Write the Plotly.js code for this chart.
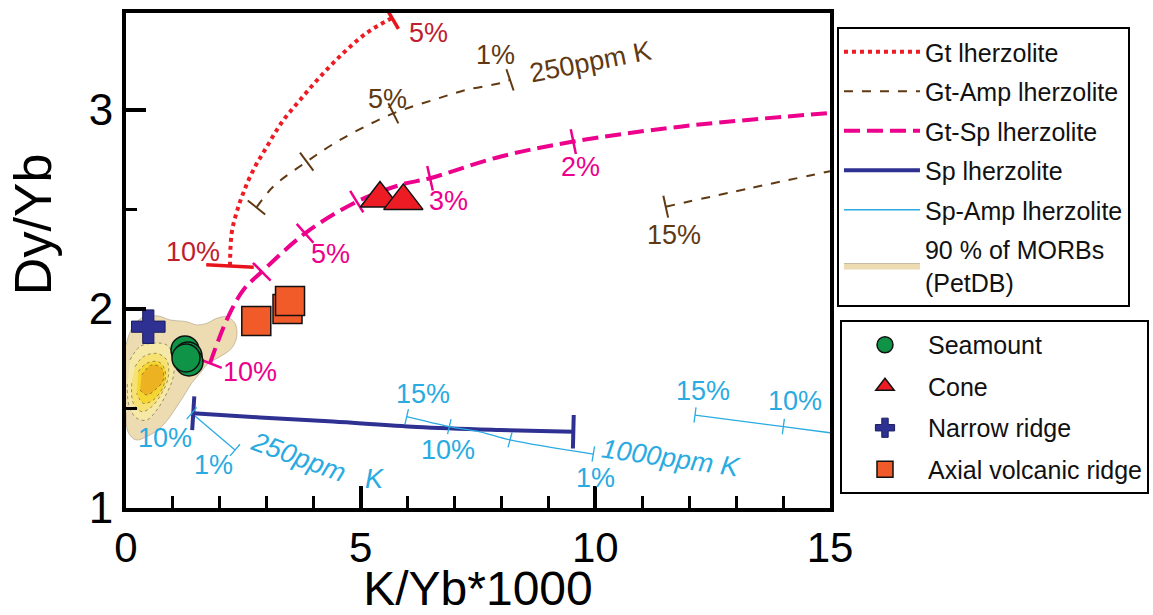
<!DOCTYPE html>
<html>
<head>
<meta charset="utf-8">
<script src="https://cdn.plot.ly/plotly-3.0.1.min.js"></script>
<style>
html,body{margin:0;padding:0;background:#fff;}
#chart{width:1153px;height:615px;}
</style>
</head>
<body>
<div id="chart"></div>
<script>
// ---------------- data ----------------
// Gt lherzolite melting curve
const gtX = [2.216, 2.252, 2.359, 2.499, 2.712, 2.998, 3.318, 3.708, 4.134, 4.630, 5.129, 5.668];
const gtY = [2.216, 2.382, 2.487, 2.583, 2.698, 2.814, 2.937, 3.050, 3.166, 3.286, 3.387, 3.462];
const gtTickX = [2.216, 5.668];
const gtTickY = [2.216, 3.462];

// Gt-Amp lherzolite (250 ppm K and 1000 ppm K segments)
const gtAmpX = [2.78, 3.139, 3.850, 4.560, 5.696, 6.548, 7.260, 7.969, 8.182, null, 11.50, 13.3, 15.0];
const gtAmpY = [2.51, 2.615, 2.740, 2.849, 2.983, 3.050, 3.101, 3.134, 3.151, null, 2.514, 2.607, 2.692];
const gtAmpTickX = [2.78, 3.850, 5.696, 8.182, 11.50];
const gtAmpTickY = [2.51, 2.740, 2.983, 3.151, 2.514];

// Gt-Sp lherzolite
const gtSpX = [1.79, 2.146, 2.499, 2.893, 3.815, 4.916, 5.838, 6.478, 7.969, 9.531, 11.805, 15.0];
const gtSpY = [1.727, 1.945, 2.095, 2.187, 2.380, 2.539, 2.623, 2.657, 2.765, 2.841, 2.916, 2.985];
const gtSpTickX = [1.79, 2.893, 3.815, 4.916, 6.478, 9.531];
const gtSpTickY = [1.727, 2.187, 2.380, 2.539, 2.657, 2.841];

// Sp lherzolite
const spX = [1.433, 2.855, 4.411, 6.201, 7.969, 9.531];
const spY = [1.476, 1.455, 1.434, 1.407, 1.392, 1.383];
const spTickX = [1.433, 9.531];
const spTickY = [1.476, 1.383];

// Sp-Amp lherzolite (three segments)
const spAmpX = [1.400, 2.323, null, 5.981, 6.889, 7.543, 8.182, 9.957, null, 12.124, 14.006, 15.0];
const spAmpY = [1.476, 1.291, null, 1.459, 1.409, 1.383, 1.342, 1.271, null, 1.467, 1.409, 1.378];
const spAmpTickX = [1.400, 2.323, 5.981, 6.889, 8.182, 9.957, 12.124, 14.006];
const spAmpTickY = [1.476, 1.291, 1.459, 1.409, 1.342, 1.271, 1.467, 1.409];

// 90 % of MORBs (PetDB) density contours, outer to inner
const morbOuterX = [0.00, 0.128, 0.341, 0.682, 0.938, 1.293, 1.506, 1.719, 1.933, 2.146, 2.323, 2.359, 2.252, 2.003, 1.754, 1.577, 1.400, 1.221, 1.080, 0.938, 0.724, 0.469, 0.213, 0.043, 0.00];
const morbOuterY = [1.819, 1.905, 1.955, 1.965, 1.945, 1.936, 1.920, 1.928, 1.953, 1.961, 1.928, 1.861, 1.803, 1.760, 1.727, 1.677, 1.627, 1.559, 1.509, 1.459, 1.401, 1.362, 1.342, 1.382, 1.477];
const morbL2X = [0.085, 0.298, 0.582, 0.867, 1.008, 1.008, 0.867, 0.654, 0.441, 0.228, 0.070, 0.028];
const morbL2Y = [1.744, 1.811, 1.828, 1.819, 1.760, 1.660, 1.576, 1.492, 1.442, 1.451, 1.509, 1.627];
const morbL3X = [0.192, 0.369, 0.654, 0.867, 0.901, 0.761, 0.548, 0.335, 0.156, 0.121];
const morbL3Y = [1.710, 1.760, 1.777, 1.744, 1.660, 1.576, 1.509, 1.484, 1.526, 1.627];
const morbL4X = [0.262, 0.441, 0.688, 0.831, 0.795, 0.582, 0.369, 0.228];
const morbL4Y = [1.685, 1.727, 1.735, 1.693, 1.610, 1.543, 1.526, 1.576];
const morbCoreX = [0.335, 0.548, 0.761, 0.795, 0.618, 0.441, 0.298];
const morbCoreY = [1.668, 1.719, 1.702, 1.643, 1.593, 1.568, 1.593];

// Samples
const seamountX = [1.257, 1.321, 1.342, 1.278];
const seamountY = [1.794, 1.764, 1.734, 1.754];
const coneX = [5.412, 5.909];
const coneY = [2.555, 2.543];
const narrowX = [0.475];
const narrowY = [1.911];
const axialX = [2.776, 3.441, 3.495];
const axialY = [1.940, 2.000, 2.040];

// Curve labels
const redLabels = ['5%', '10%'];
const redLabelX = [6.435, 1.434];
const redLabelY = [3.389, 2.288];
const brownLabels = ['5%', '1%', '250ppm K', '15%'];
const brownLabelX = [5.572, 7.863, 9.887, 11.681];
const brownLabelY = [3.057, 3.276, 3.241, 2.372];
const magentaLabels = ['5%', '3%', '2%', '10%'];
const magentaLabelX = [4.347, 6.868, 9.674, 2.642];
const magentaLabelY = [2.276, 2.544, 2.711, 1.685];
const blueLabels = ['10%', '1%', '250ppm', 'K', '15%', '10%', '1%', '1000ppm K', '15%', '10%'];
const blueLabelX = [0.831, 1.860, 3.671, 5.284, 6.318, 6.868, 9.993, 11.609, 12.284, 14.255];
const blueLabelY = [1.350, 1.216, 1.254, 1.146, 1.573, 1.291, 1.153, 1.250, 1.589, 1.539];

// Axis ticks
const xTickVals = [0, 5, 10, 15];
const yTickVals = [1, 2, 3];

// ---------------- styling / layout ----------------
const FONT = 'Liberation Sans, Arial, Helvetica, sans-serif';
const xRange = [0, 15];
const yRange = [1, 3.487];
const M = {l: 126, r: 323, t: 13, b: 107, autoexpand: false};
const W = 1153, H = 615;
const kx = (W - M.l - M.r) / (xRange[1] - xRange[0]);
const ky = (H - M.t - M.b) / (yRange[1] - yRange[0]);

const C = {
  red: '#ed1c24', redTick: '#e8141c', redTxt: '#be1e2d',
  brown: '#603913',
  magenta: '#ec008c',
  sp: '#2e3192',
  spAmp: '#29abe2',
  tan: '#eddcb1'
};

// angle (deg, clockwise) of a tick perpendicular to a curve at a point
function tickAngles(cx, cy, tx, ty) {
  const segs = [];
  for (let i = 0; i < cx.length - 1; i++) {
    if (cx[i] === null || cx[i + 1] === null) continue;
    segs.push([cx[i], cy[i], cx[i + 1], cy[i + 1]]);
  }
  return tx.map((x, k) => {
    const y = ty[k];
    let best = null, bd = Infinity;
    segs.forEach(s => {
      const px = (s[2] - s[0]) * kx, py = (s[3] - s[1]) * ky;
      const qx = (x - s[0]) * kx, qy = (y - s[1]) * ky;
      let t = (qx * px + qy * py) / (px * px + py * py);
      t = Math.max(0, Math.min(1, t));
      const d = Math.hypot(qx - t * px, qy - t * py);
      if (d < bd) { bd = d; best = s; }
    });
    const dx = (best[2] - best[0]) * kx;
    const dy = -(best[3] - best[1]) * ky;
    return Math.atan2(dy, dx) * 180 / Math.PI;
  });
}

function tickTrace(cx, cy, tx, ty, color, len, width) {
  return {
    x: tx, y: ty, type: 'scatter', mode: 'markers', showlegend: false, hoverinfo: 'skip',
    marker: {symbol: 'line-ns', size: len, angle: tickAngles(cx, cy, tx, ty), opacity: 1,
             line: {color: color, width: width}}
  };
}

const traces = [];

// MORB field
const morbLevels = [
  [morbOuterX, morbOuterY, '#eddcb1', 'rgba(150,135,110,0.8)', 'solid', 0.6],
  [morbL2X, morbL2Y, '#f6e8a6', 'rgba(60,50,30,0.7)', 'dot', 0.7],
  [morbL3X, morbL3Y, '#f8e173', 'rgba(60,50,30,0.7)', 'dot', 0.7],
  [morbL4X, morbL4Y, '#f5d531', 'rgba(60,50,30,0.7)', 'dot', 0.7],
  [morbCoreX, morbCoreY, '#edb221', 'rgba(60,50,30,0.7)', 'dot', 0.7]
];
morbLevels.forEach((lv, i) => {
  traces.push({
    x: lv[0], y: lv[1], type: 'scatter', mode: 'lines', fill: 'toself',
    fillcolor: lv[2], line: {color: lv[3], width: lv[5], dash: lv[4], shape: 'spline', smoothing: 1.0},
    name: '90 % of MORBs<br>(PetDB)', showlegend: i === 0, legend: 'legend',
    legendgroup: 'morb', legendrank: 6, hoverinfo: 'skip'
  });
});

// model curves
traces.push({x: gtX, y: gtY, type: 'scatter', mode: 'lines', name: 'Gt lherzolite',
  line: {color: C.red, width: 4, dash: 'dot', shape: 'spline'}, legend: 'legend', legendgroup: 'g1', legendrank: 1});
traces.push({x: gtAmpX, y: gtAmpY, type: 'scatter', mode: 'lines', name: 'Gt-Amp lherzolite',
  line: {color: C.brown, width: 2, dash: 'dash', shape: 'spline'}, connectgaps: false,
  legend: 'legend', legendgroup: 'g2', legendrank: 2});
traces.push({x: gtSpX, y: gtSpY, type: 'scatter', mode: 'lines', name: 'Gt-Sp lherzolite',
  line: {color: C.magenta, width: 4, dash: '16px,7px', shape: 'spline'}, legend: 'legend', legendgroup: 'g3', legendrank: 3});
traces.push({x: spX, y: spY, type: 'scatter', mode: 'lines', name: 'Sp lherzolite',
  line: {color: C.sp, width: 4, shape: 'spline'}, legend: 'legend', legendgroup: 'g4', legendrank: 4});
traces.push({x: spAmpX, y: spAmpY, type: 'scatter', mode: 'lines', name: 'Sp-Amp lherzolite',
  line: {color: C.spAmp, width: 1.3, shape: 'spline'}, connectgaps: false,
  legend: 'legend', legendgroup: 'g5', legendrank: 5});

// ticks on curves
traces.push(tickTrace(gtX, gtY, gtTickX, gtTickY, C.redTick, 0, 3.5));
traces[traces.length - 1].marker.size = [34, 18];
traces.push(tickTrace(gtAmpX, gtAmpY, gtAmpTickX, gtAmpTickY, C.brown, 16, 2));
traces.push(tickTrace(gtSpX, gtSpY, gtSpTickX, gtSpTickY, C.magenta, 18, 2.5));
traces.push(tickTrace(spX, spY, spTickX, spTickY, C.sp, 24, 4));
traces.push(tickTrace(spAmpX, spAmpY, spAmpTickX, spAmpTickY, C.spAmp, 11, 1.3));

// samples
traces.push({x: axialX, y: axialY, type: 'scatter', mode: 'markers', name: 'Axial volcanic ridge',
  marker: {symbol: 'square', size: 29, color: '#f15a29', line: {color: '#111', width: 1.5}},
  legend: 'legend2', legendgroup: 's4', legendrank: 4});
traces.push({x: coneX, y: coneY, type: 'scatter', mode: 'markers', name: 'Cone',
  marker: {symbol: 'triangle-up', size: 34, color: '#ed1c24', line: {color: '#111', width: 1.5}},
  legend: 'legend2', legendgroup: 's2', legendrank: 2});
traces.push({x: seamountX, y: seamountY, type: 'scatter', mode: 'markers', name: 'Seamount',
  marker: {symbol: 'circle', size: 28, color: '#0f9347', line: {color: '#111', width: 1.5}},
  legend: 'legend2', legendgroup: 's1', legendrank: 1});
traces.push({x: narrowX, y: narrowY, type: 'scatter', mode: 'markers', name: 'Narrow ridge',
  marker: {symbol: 'cross', size: 28, color: '#2e3192', line: {color: '#1b1d60', width: 1}},
  legend: 'legend2', legendgroup: 's3', legendrank: 3});

// labels
const annotations = [];
function addLabels(texts, xs, ys, color, styleFn) {
  texts.forEach((t, i) => {
    const a = {x: xs[i], y: ys[i], xref: 'x', yref: 'y', text: t, showarrow: false,
      font: {family: FONT, size: 27, color: color}, xanchor: 'center', yanchor: 'middle'};
    if (styleFn) styleFn(a, t, i);
    annotations.push(a);
  });
}
addLabels(redLabels, redLabelX, redLabelY, C.redTxt);
addLabels(brownLabels, brownLabelX, brownLabelY, C.brown, (a, t) => { if (t === '250ppm K') a.textangle = -11; });
addLabels(magentaLabels, magentaLabelX, magentaLabelY, C.magenta);
addLabels(blueLabels, blueLabelX, blueLabelY, C.spAmp, (a, t) => {
  if (t === '250ppm') { a.textangle = 20; a.font.style = 'italic'; }
  if (t === 'K') a.font.style = 'italic';
  if (t === '1000ppm K') { a.textangle = 8; a.font.style = 'italic'; }
});

const legendCommon = {
  bgcolor: '#ffffff', bordercolor: '#000000', borderwidth: 2,
  font: {family: FONT, size: 25, color: '#111'},
  xanchor: 'left', yanchor: 'top', itemwidth: 76,
  traceorder: 'grouped'
};

// y title: the reference centres it above the axis middle; leading spaces shift it up
const yTitlePad = '\u200B' + '\u00a0'.repeat(5);

const layout = {
  width: W, height: H,
  margin: M,
  paper_bgcolor: '#ffffff', plot_bgcolor: '#ffffff',
  showlegend: true,
  font: {family: FONT, color: '#000'},
  xaxis: {
    range: xRange, tickvals: xTickVals, ticks: 'inside', ticklen: 22, tickwidth: 4, tickcolor: '#000',
    showline: true, linecolor: '#000', linewidth: 4, mirror: true, showgrid: false, zeroline: false,
    tickfont: {family: FONT, size: 42, color: '#000'},
    minor: {dtick: 1, ticks: 'inside', ticklen: 12, tickwidth: 3, tickcolor: '#000', showgrid: false},
    title: {text: 'K/Yb*1000', font: {family: FONT, size: 48, color: '#000'}, standoff: 16}
  },
  yaxis: {
    range: yRange, tickvals: yTickVals, ticks: 'inside', ticklen: 20, tickwidth: 4, tickcolor: '#000',
    showline: true, linecolor: '#000', linewidth: 4, mirror: true, showgrid: false, zeroline: false,
    tickfont: {family: FONT, size: 44, color: '#000'},
    minor: {dtick: 0.5, ticks: 'inside', ticklen: 11, tickwidth: 3, tickcolor: '#000', showgrid: false},
    title: {text: yTitlePad + 'Dy/Yb', font: {family: FONT, size: 52, color: '#000'}, standoff: 22}
  },
  legend: Object.assign({}, legendCommon, {x: 1.0099, y: 0.9717, tracegroupgap: 4}),
  legend2: Object.assign({}, legendCommon, {x: 1.0142, y: 0.3798, tracegroupgap: 6}),
  annotations: annotations
};

Plotly.newPlot('chart', traces, layout, {displayModeBar: false, staticPlot: true});
</script>
</body>
</html>
